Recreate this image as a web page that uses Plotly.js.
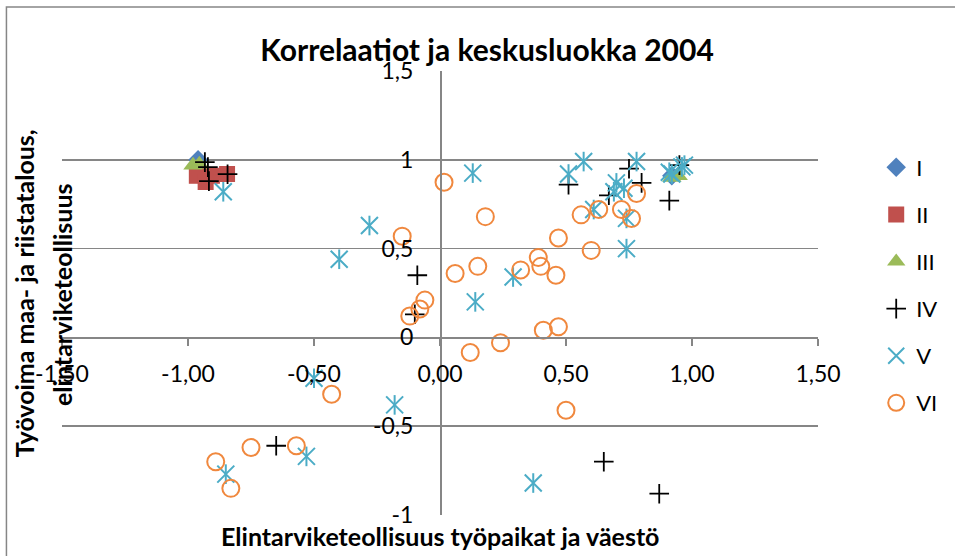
<!DOCTYPE html>
<html>
<head>
<meta charset="utf-8">
<script src="https://cdn.plot.ly/plotly-3.0.1.min.js"></script>
<style>html,body{margin:0;padding:0;background:#fff;}#chart{width:955px;height:556px;}</style>
</head>
<body>
<div id="chart"></div>
<script>
// Series I
const xI = [-0.96, 0.92];
const yI = [1.00, 0.91];
// Series II
const xII = [-0.965, -0.905, -0.845, -0.93];
const yII = [0.91, 0.91, 0.92, 0.875];
// Series III
const xIII = [-0.98, -0.955, 0.92, 0.945];
const yIII = [0.97, 0.975, 0.90, 0.91];
// Series IV
const xIV = [-0.933, -0.921, -0.843, -0.917, 0.51, 0.75, 0.80, 0.67, 0.91, 0.95, -0.09, -0.10, -0.65, 0.65, 0.87];
const yIV = [0.987, 0.959, 0.919, 0.88, 0.86, 0.95, 0.87, 0.80, 0.77, 0.97, 0.35, 0.13, -0.61, -0.70, -0.88];
// Series V
const xV = [-0.86, 0.13, 0.51, 0.57, 0.78, 0.70, 0.73, 0.69, 0.61, 0.74, 0.74, 0.91, 0.96, 0.92, 0.97,
            -0.28, -0.40, 0.14, 0.29, -0.50, -0.18, -0.53, -0.85, 0.37];
const yV = [0.82, 0.925, 0.92, 0.99, 0.99, 0.87, 0.84, 0.82, 0.72, 0.67, 0.50, 0.93, 0.96, 0.92, 0.97,
            0.63, 0.44, 0.20, 0.34, -0.23, -0.38, -0.67, -0.77, -0.82];
// Series VI
const xVI = [0.016, 0.18, 0.56, 0.63, 0.72, 0.76, 0.78, 0.47, 0.60, -0.15, 0.06, 0.15, -0.06, -0.08, -0.12,
             0.12, 0.32, 0.39, 0.40, 0.46, 0.24, 0.41, 0.47, 0.50, -0.43, -0.75, -0.57, -0.89, -0.83];
const yVI = [0.874, 0.68, 0.69, 0.72, 0.72, 0.67, 0.81, 0.56, 0.49, 0.57, 0.36, 0.40, 0.21, 0.16, 0.12,
             -0.085, 0.38, 0.45, 0.40, 0.35, -0.03, 0.04, 0.06, -0.41, -0.32, -0.62, -0.61, -0.70, -0.85];

const xTickVals = [-1.5, -1, -0.5, 0, 0.5, 1, 1.5];
const xTickText = ['-1,50', '-1,00', '-0,50', '0,00', '0,50', '1,00', '1,50'];
const yTickVals = [-1, -0.5, 0, 0.5, 1, 1.5];
const yTickText = ['-1', '-0,5', '0', '0,5', '1', '1,5'];

const titleText = 'Korrelaatiot ja keskusluokka 2004';
const xTitle = 'Elintarviketeollisuus työpaikat ja väestö';
const yTitle1 = 'Työvoima maa- ja riistatalous,';
const yTitle2 = 'elintarviketeollisuus';

const FONT = 'Lato, "Open Sans", sans-serif';
const GRAY = '#868686';

const traces = [
  {x: xI, y: yI, name: 'I', legendgroup: 'I', type: 'scatter', mode: 'markers',
   marker: {symbol: 'diamond', size: 15, color: '#4F81BD', line: {width: 0}}},
  {x: xII, y: yII, name: 'II', legendgroup: 'II', type: 'scatter', mode: 'markers',
   marker: {symbol: 'square', size: 16, color: '#C0504D', line: {width: 0}}},
  {x: xIII, y: yIII, name: 'III', legendgroup: 'III', type: 'scatter', mode: 'markers',
   marker: {symbol: 'triangle-up', size: 17, color: '#9BBB59', line: {width: 0}}},
  {x: xIV, y: yIV, name: 'IV', legendgroup: 'IV', type: 'scatter', mode: 'markers',
   marker: {symbol: 'cross-thin-open', size: 14, color: '#000000', line: {width: 1.8, color: '#000000'}}},
  {x: xV, y: yV, name: 'V', legendgroup: 'V', type: 'scatter', mode: 'markers',
   marker: {symbol: 'x-thin-open', size: 17, color: '#4BACC6', line: {width: 2, color: '#4BACC6'}}},
  {x: xV, y: yV, name: 'V', legendgroup: 'V', showlegend: false, type: 'scatter', mode: 'markers',
   marker: {symbol: 'line-ns-open', size: 14, color: '#4BACC6', line: {width: 2, color: '#4BACC6'}}},
  {x: xVI, y: yVI, name: 'VI', legendgroup: 'VI', type: 'scatter', mode: 'markers',
   marker: {symbol: 'circle-open', size: 17, color: '#F0883E', line: {width: 2, color: '#F0883E'}}}
];

const layout = {
  width: 955, height: 556,
  margin: {l: 62, r: 131, t: 71, b: 41},
  paper_bgcolor: '#ffffff', plot_bgcolor: '#ffffff',
  font: {family: FONT, color: '#000000', size: 22},
  showlegend: true,
  title: {text: '<b>' + titleText + '</b>', font: {family: FONT, size: 30, color: '#000'},
          x: 0.51, xref: 'container', xanchor: 'center', y: 1 - 50/556, yref: 'container', yanchor: 'middle'},
  xaxis: {range: [-1.5, 1.5], anchor: 'free', position: 0.4, showline: true, linecolor: GRAY, linewidth: 1.5,
          ticks: 'outside', ticklen: 7, tickcolor: GRAY, tickwidth: 1.5,
          tickvals: xTickVals, ticktext: xTickText, showgrid: false, zeroline: false,
          tickfont: {family: FONT, size: 23, color: '#000'}, ticklabelstandoff: 8},
  yaxis: {range: [-1, 1.5], anchor: 'free', position: 0.5, showline: true, linecolor: GRAY, linewidth: 1.5,
          ticks: '', tickvals: yTickVals, ticktext: yTickText, showgrid: true, gridcolor: GRAY, gridwidth: 1.5,
          zeroline: false, tickfont: {family: FONT, size: 23, color: '#000'}, ticklabelstandoff: 22},
  legend: {x: 1.077, xanchor: 'left', y: 0.83, yanchor: 'top', font: {family: FONT, size: 22, color: '#000'},
           tracegroupgap: 15.5, bgcolor: 'rgba(0,0,0,0)'},
  shapes: [
    {type: 'rect', xref: 'paper', yref: 'paper', x0: (6-62)/762, x1: 2, y0: -1, y1: (515-7)/444,
     line: {color: GRAY, width: 1.5}, fillcolor: 'rgba(0,0,0,0)', layer: 'below'}
  ],
  annotations: [
    {text: '<b>' + xTitle + '</b>', xref: 'paper', yref: 'paper', x: (443-62)/762, y: (515-536)/444,
     xanchor: 'center', yanchor: 'middle', showarrow: false, font: {family: FONT, size: 25, color: '#000'}},
    {text: '<b>' + yTitle1 + '</b>', xref: 'paper', yref: 'paper', x: (24-62)/762, y: (515-293)/444,
     xanchor: 'center', yanchor: 'middle', textangle: -90, showarrow: false, font: {family: FONT, size: 25, color: '#000'}},
    {text: '<b>' + yTitle2 + '</b>', xref: 'paper', yref: 'paper', x: (62-62)/762, y: (515-295)/444,
     xanchor: 'center', yanchor: 'middle', textangle: -90, showarrow: false, font: {family: FONT, size: 25, color: '#000'}}
  ]
};

Plotly.newPlot('chart', traces, layout, {displayModeBar: false, staticPlot: true});
</script>
</body>
</html>
